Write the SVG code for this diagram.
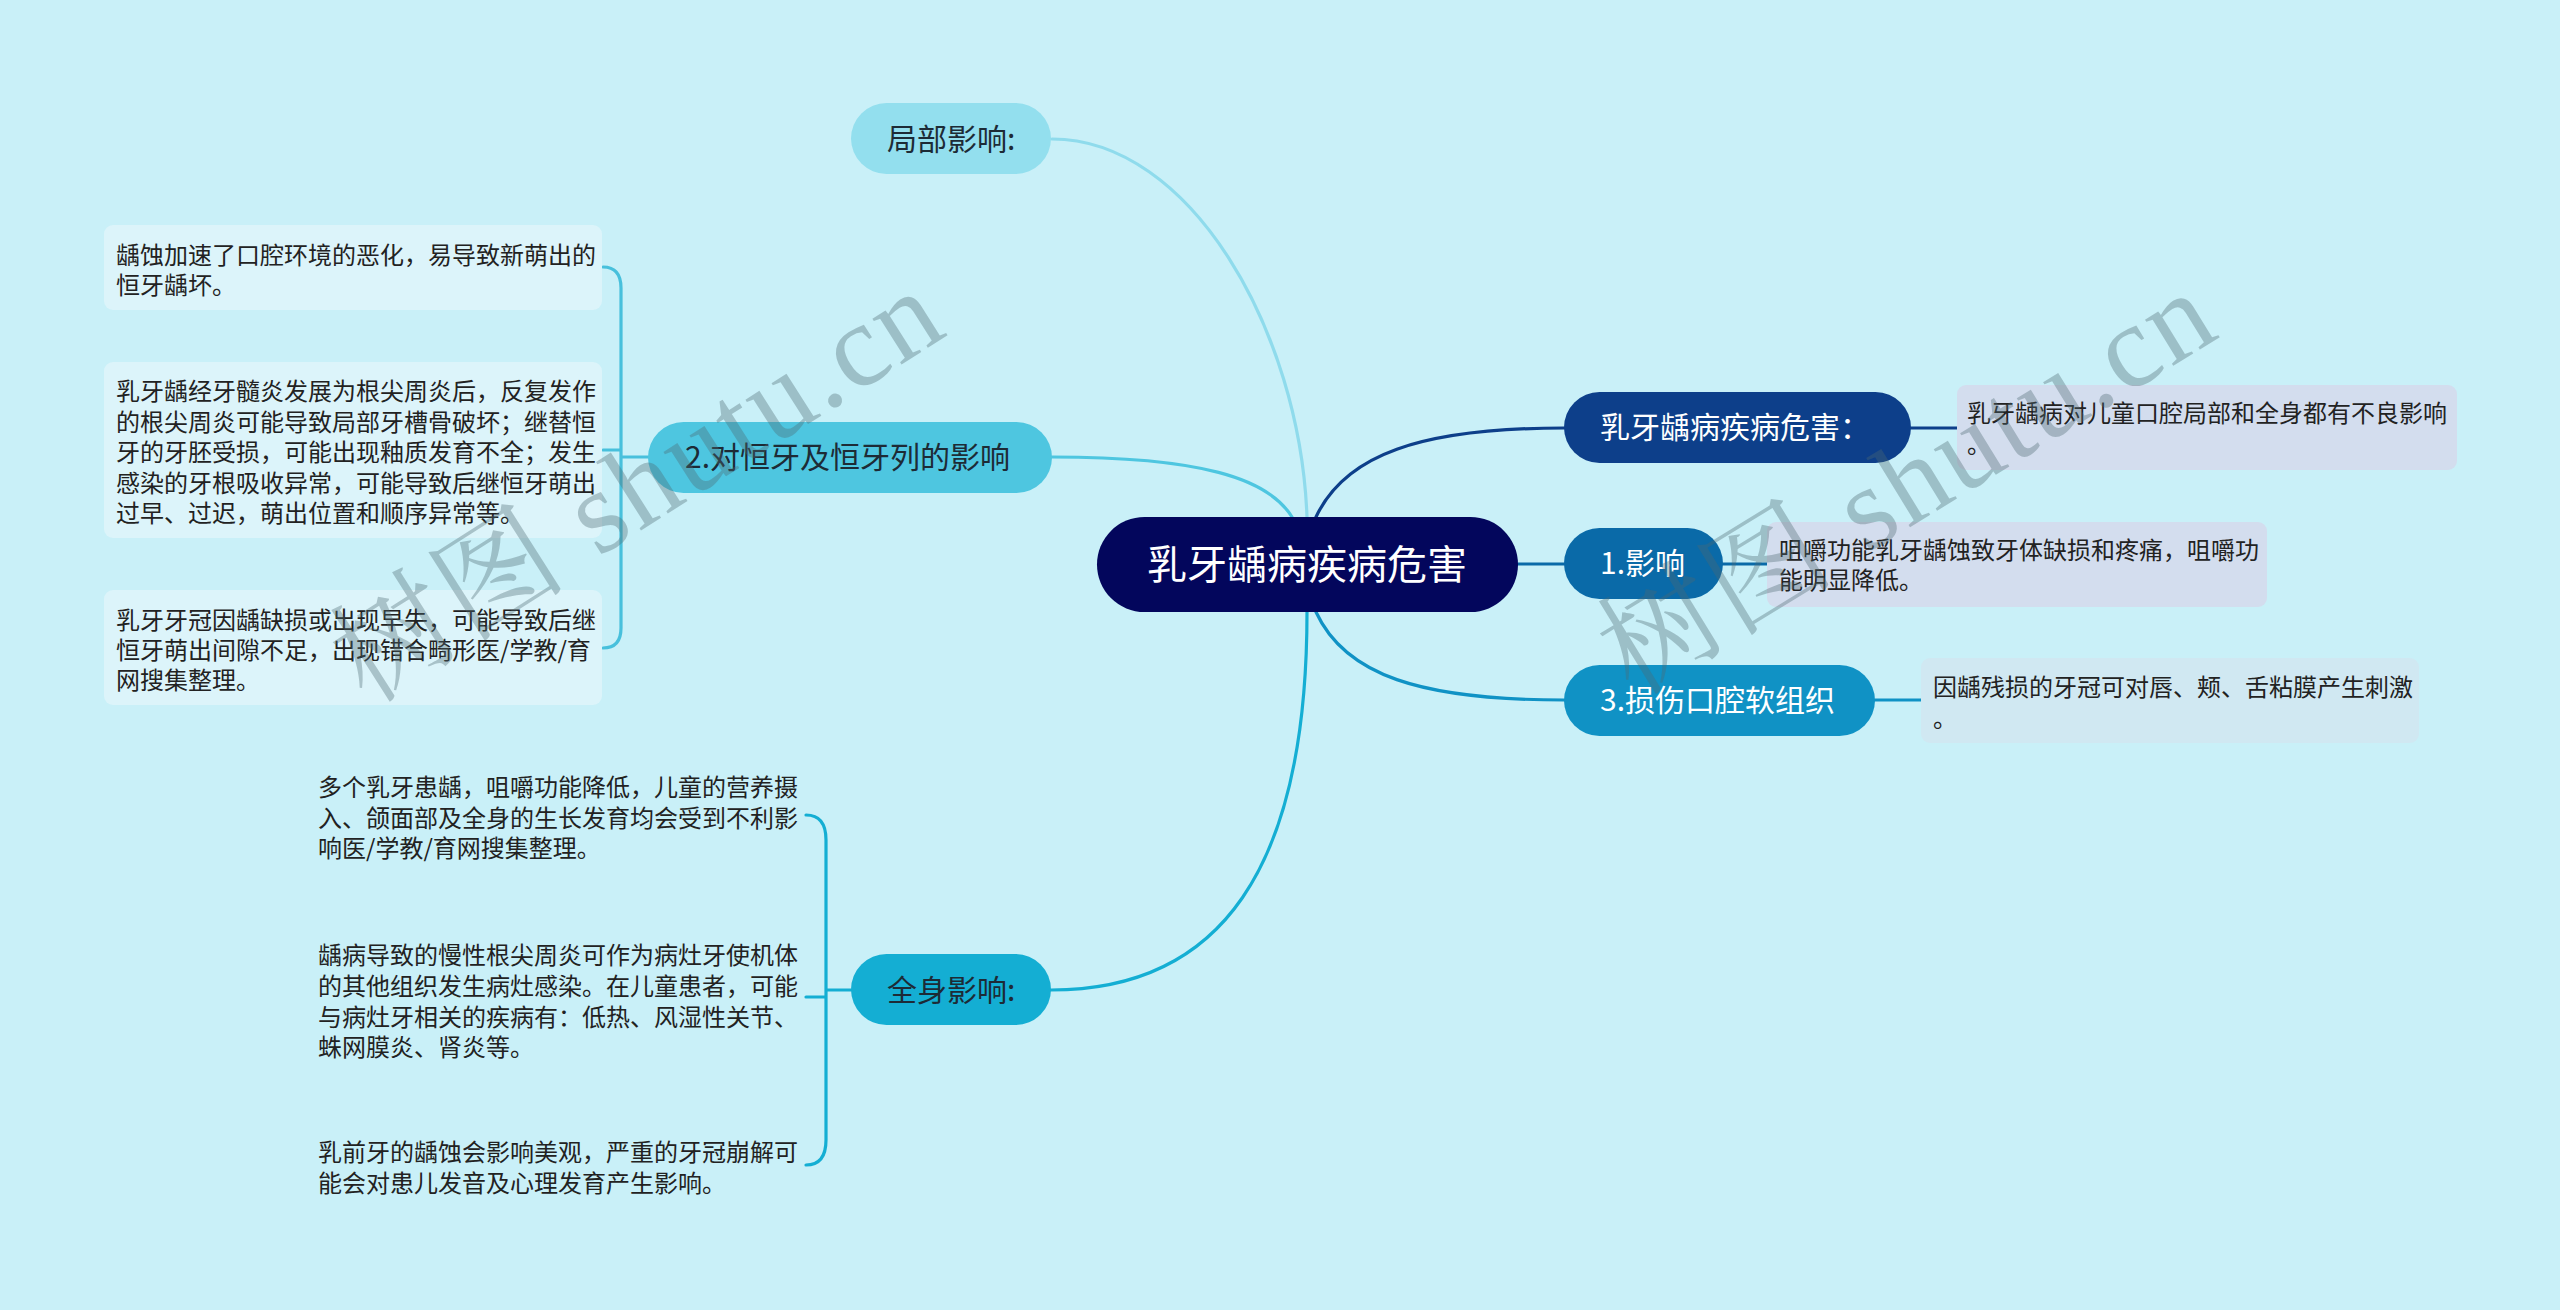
<svg xmlns="http://www.w3.org/2000/svg" width="2560" height="1310" viewBox="0 0 2560 1310">
<style>
text{font-family:"Noto Sans CJK SC","Noto Sans",sans-serif;}
.leaf{font-size:24px;fill:#222;}
.nl{font-size:30px;fill:#1d2b36;}
.nr{font-size:30px;fill:#fff;}
.root{font-size:40px;fill:#fff;}
.c{fill:none;stroke-width:3.2;stroke-linecap:round;}
.wm{font-family:"Liberation Serif","Noto Serif CJK SC","Noto Sans CJK SC",serif;font-size:118px;fill:#4d6a72;fill-opacity:0.36;}
</style>
<rect width="2560" height="1310" fill="#c9f0f8"/>
<g id="connectors">
<path class="c" stroke="#8fdbec" d="M1052,139 C1190,139 1300,330 1307,517"/>
<path class="c" stroke="#4ec6e0" d="M1052,457 C1200,457 1268,478 1292,517"/>
<path class="c" stroke="#14aed3" d="M1307,612 C1307,870 1220,990 1051,990"/>
<path class="c" stroke="#0d3f8a" d="M1316,517 C1345,455 1420,428 1564,428"/>
<path class="c" stroke="#0a6aa8" d="M1518,564 H1564"/>
<path class="c" stroke="#1092c5" d="M1316,612 C1345,675 1420,700 1564,700"/>
<path class="c" stroke="#0d3f8a" d="M1911,428 H1957"/>
<path class="c" stroke="#0a6aa8" d="M1723,564 H1767"/>
<path class="c" stroke="#1092c5" d="M1875,700 H1921"/>
<path class="c" stroke="#48c0dc" d="M648,457 H621 M621,457 V288 Q621,267 603,267 M621,457 V628 Q621,648 603,648 M621,450 H603"/>
<path class="c" stroke="#14aed3" d="M851,990 H826 M826,990 V840 Q826,815 806,815 M826,990 V1140 Q826,1165 806,1165 M826,997 H806"/>
</g>
<g id="root">
<rect x="1097" y="517" width="421" height="95" rx="47.5" fill="#03065c"/>
<text class="root" x="1307" y="579" text-anchor="middle">乳牙龋病疾病危害</text>
</g>
<g id="n-r1">
<rect x="1564" y="392" width="347" height="71" rx="35.5" fill="#0d3f8a"/>
<text class="nr" x="1600" y="438">乳牙龋病疾病危害：</text>
</g>
<g id="leaf-r1">
<rect x="1957" y="385" width="500" height="85" rx="9" fill="#d3ddee"/>
<text class="leaf" x="1967" y="422">乳牙龋病对儿童口腔局部和全身都有不良影响</text>
<text class="leaf" x="1967" y="453">。</text>
</g>
<g id="n-r2">
<rect x="1564" y="528" width="159" height="71" rx="35.5" fill="#0a6aa8"/>
<text class="nr" x="1600" y="574">1.影响</text>
</g>
<g id="leaf-r2">
<rect x="1767" y="522" width="500" height="85" rx="9" fill="#d3ddee"/>
<text class="leaf" x="1779" y="559">咀嚼功能乳牙龋蚀致牙体缺损和疼痛，咀嚼功</text>
<text class="leaf" x="1779" y="589">能明显降低。</text>
</g>
<g id="n-r3">
<rect x="1564" y="665" width="311" height="71" rx="35.5" fill="#1092c5"/>
<text class="nr" x="1600" y="711">3.损伤口腔软组织</text>
</g>
<g id="leaf-r3">
<rect x="1921" y="658" width="498" height="85" rx="9" fill="#d0e8f2"/>
<text class="leaf" x="1933" y="696">因龋残损的牙冠可对唇、颊、舌粘膜产生刺激</text>
<text class="leaf" x="1933" y="727">。</text>
</g>
<g id="n-l1">
<rect x="851" y="103" width="200" height="71" rx="35.5" fill="#93dfee"/>
<text class="nl" x="887" y="150">局部影响:</text>
</g>
<g id="n-l2">
<rect x="648" y="422" width="404" height="71" rx="35.5" fill="#4ec6e0"/>
<text class="nl" x="685" y="468">2.对恒牙及恒牙列的影响</text>
</g>
<g id="leaf-l2a">
<rect x="104" y="225" width="498" height="85" rx="9" fill="#dcf4fa"/>
<text class="leaf" x="116" y="264">龋蚀加速了口腔环境的恶化，易导致新萌出的</text>
<text class="leaf" x="116" y="294">恒牙龋坏。</text>
</g>
<g id="leaf-l2b">
<rect x="104" y="362" width="498" height="176" rx="9" fill="#dcf4fa"/>
<text class="leaf" x="116" y="400">乳牙龋经牙髓炎发展为根尖周炎后，反复发作</text>
<text class="leaf" x="116" y="430.5">的根尖周炎可能导致局部牙槽骨破坏；继替恒</text>
<text class="leaf" x="116" y="461">牙的牙胚受损，可能出现釉质发育不全；发生</text>
<text class="leaf" x="116" y="491.5">感染的牙根吸收异常，可能导致后继恒牙萌出</text>
<text class="leaf" x="116" y="522">过早、过迟，萌出位置和顺序异常等。</text>
</g>
<g id="leaf-l2c">
<rect x="104" y="590" width="498" height="115" rx="9" fill="#dcf4fa"/>
<text class="leaf" x="116" y="629">乳牙牙冠因龋缺损或出现早失，可能导致后继</text>
<text class="leaf" x="116" y="659">恒牙萌出间隙不足，出现错合畸形医/学教/育</text>
<text class="leaf" x="116" y="689">网搜集整理。</text>
</g>
<g id="n-l3">
<rect x="851" y="954" width="200" height="71" rx="35.5" fill="#14aed3"/>
<text class="nl" x="887" y="1001">全身影响:</text>
</g>
<g id="leaf-l3a">
<text class="leaf" x="318" y="796">多个乳牙患龋，咀嚼功能降低，儿童的营养摄</text>
<text class="leaf" x="318" y="827">入、颌面部及全身的生长发育均会受到不利影</text>
<text class="leaf" x="318" y="857">响医/学教/育网搜集整理。</text>
</g>
<g id="leaf-l3b">
<text class="leaf" x="318" y="964">龋病导致的慢性根尖周炎可作为病灶牙使机体</text>
<text class="leaf" x="318" y="995">的其他组织发生病灶感染。在儿童患者，可能</text>
<text class="leaf" x="318" y="1026">与病灶牙相关的疾病有：低热、风湿性关节、</text>
<text class="leaf" x="318" y="1056">蛛网膜炎、肾炎等。</text>
</g>
<g id="leaf-l3c">
<text class="leaf" x="318" y="1161">乳前牙的龋蚀会影响美观，严重的牙冠崩解可</text>
<text class="leaf" x="318" y="1192">能会对患儿发音及心理发育产生影响。</text>
</g>
<g id="watermarks">
<text class="wm" transform="translate(367,705) rotate(-32.5)" textLength="690" lengthAdjust="spacing">树图 shutu.cn</text>
<text class="wm" transform="translate(1633,697) rotate(-31.5)" textLength="690" lengthAdjust="spacing">树图 shutu.cn</text>
</g>
</svg>
